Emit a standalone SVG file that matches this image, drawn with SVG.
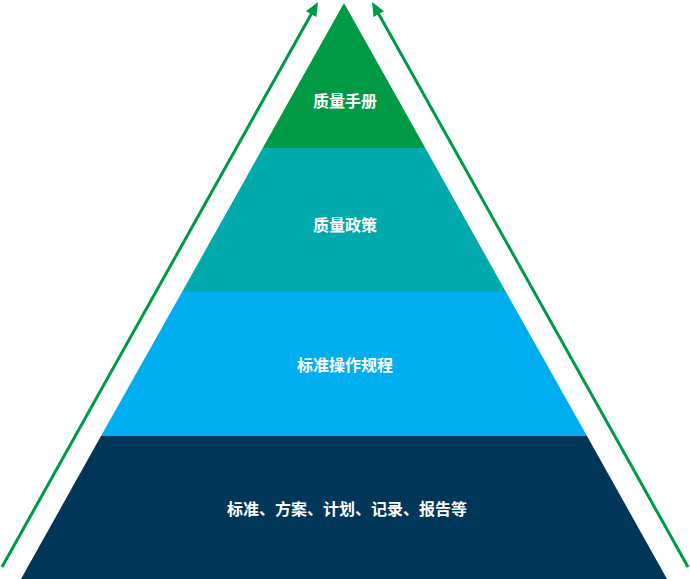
<svg xmlns="http://www.w3.org/2000/svg" width="690" height="579" viewBox="0 0 690 579">
<style>
.lbl{font-family:"Noto Sans CJK SC","Noto Sans",sans-serif;font-size:16px;font-weight:bold;fill:#ffffff;text-anchor:middle;dominant-baseline:central}
.arr{stroke:#009944;stroke-width:3;fill:none}
</style>
<defs>
<marker id="ah" markerUnits="userSpaceOnUse" markerWidth="16" markerHeight="14" refX="4" refY="6" orient="auto" viewBox="0 0 16 14">
<path d="M0,0 L14,6 L0,12 z" fill="#009944"/>
</marker>
</defs>
<rect width="690" height="579" fill="#ffffff"/>
<g id="layer1">
<polygon points="344,3 425.3,148 262.7,148" fill="#009a44"/>
<text class="lbl" x="345" y="100">质量手册</text>
</g>
<g id="layer2">
<polygon points="262.7,148 425.3,148 506,292 182,292" fill="#00a9ac"/>
<text class="lbl" x="345" y="224">质量政策</text>
</g>
<g id="layer3">
<polygon points="182,292 506,292 587,436 101,436" fill="#00aeef"/>
<text class="lbl" x="345" y="364">标准操作规程</text>
</g>
<g id="layer4">
<polygon points="101,436 587,436 667,579 21,579" fill="#003658"/>
<text class="lbl" x="347" y="508">标准、方案、计划、记录、报告等</text>
</g>
<g id="connectors">
<line class="arr" x1="2" y1="567" x2="313.1" y2="10.7" marker-end="url(#ah)"/>
<line class="arr" x1="688" y1="567" x2="376.9" y2="10.7" marker-end="url(#ah)"/>
</g>
</svg>
